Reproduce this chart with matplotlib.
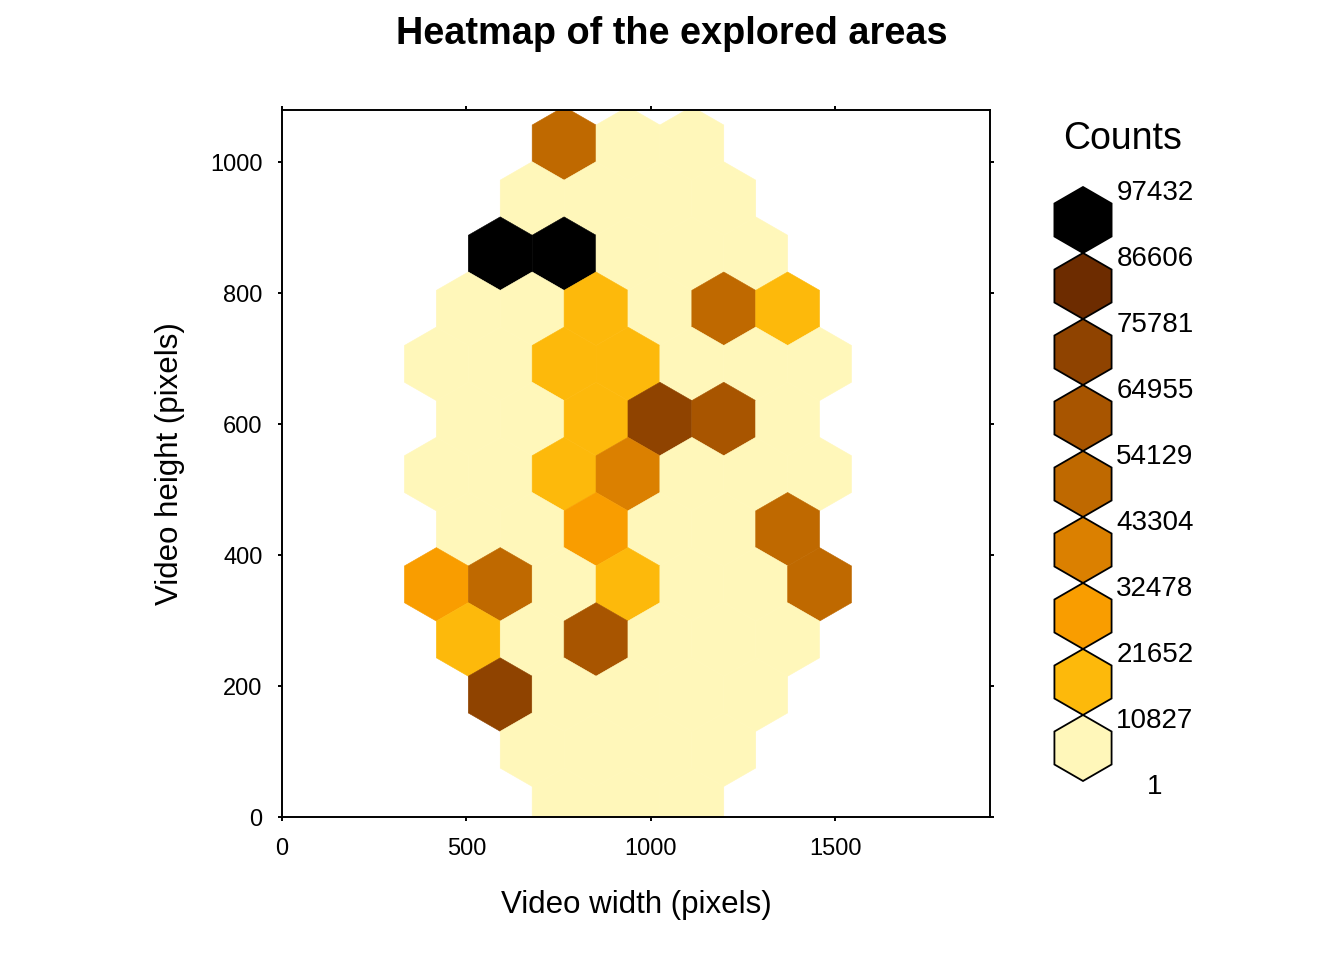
import matplotlib
matplotlib.use("Agg")
import matplotlib.pyplot as plt
from matplotlib.collections import PolyCollection
from matplotlib.colors import ListedColormap, BoundaryNorm
from matplotlib.patches import RegularPolygon
import numpy as np

# hexbin grid over the video frame (pixels)
x_origin, x_step = 765.0, 173.2
y_origin, y_step = 18.6, 84.2

# column index (half steps) and row index of each non empty hexagon
hex_col = [0, 2, 4,
           -1, 1, 3, 5,
           -2, 0, 2, 4, 6,
           -3, -1, 1, 3, 5, 7,
           -4, -2, 0, 2, 4, 6, 8,
           -3, -1, 1, 3, 5, 7,
           -4, -2, 0, 2, 4, 6, 8,
           -3, -1, 1, 3, 5, 7,
           -4, -2, 0, 2, 4, 6, 8,
           -3, -1, 1, 3, 5, 7,
           -2, 0, 2, 4, 6,
           -1, 1, 3, 5,
           0, 2, 4]
hex_row = [12] * 3 + [11] * 4 + [10] * 5 + [9] * 6 + [8] * 7 + [7] * 6 + [6] * 7 \
    + [5] * 6 + [4] * 7 + [3] * 6 + [2] * 5 + [1] * 4 + [0] * 3
hex_count = [48500, 3100, 2400,
             1800, 6200, 5400, 950,
             91200, 97432, 8700, 7300, 1200,
             650, 4100, 16800, 9800, 47900, 13900,
             420, 3600, 15200, 18400, 8100, 5200, 1,
             2300, 9400, 19700, 72600, 61300, 3800,
             1500, 7600, 14300, 38900, 9100, 6700, 2900,
             4700, 8800, 27300, 10200, 7900, 50800,
             25600, 46200, 9600, 17500, 10500, 6300, 49700,
             12600, 5800, 58800, 8400, 7100, 2600,
             70400, 8900, 10100, 7700, 3300,
             2700, 6900, 9300, 4400,
             3900, 7200, 5100]

count_breaks = [1, 10827, 21652, 32478, 43304, 54129, 64955, 75781, 86606, 97432]
bin_colors = ["#FFF7BA", "#FDB90B", "#F99D00", "#DB8000", "#BF6900",
              "#A85500", "#8F4300", "#6D2C00", "#000000"]

plt.rcParams["font.family"] = ["Liberation Sans", "DejaVu Sans"]

fig = plt.figure(figsize=(13.44, 9.6), dpi=100)
ax = fig.add_axes([282 / 1344, 1 - 817 / 960, 708 / 1344, 707 / 960])

cmap = ListedColormap(bin_colors).with_extremes(over=bin_colors[-1])
norm = BoundaryNorm(count_breaks, ncolors=len(bin_colors))

half_w = x_step / 2
rad = y_step / 1.5
hex_shape = np.array([[0, rad], [half_w, rad / 2], [half_w, -rad / 2],
                      [0, -rad], [-half_w, -rad / 2], [-half_w, rad / 2]])
cx = x_origin + np.array(hex_col) * half_w
cy = y_origin + np.array(hex_row) * y_step
verts = [hex_shape + [x, y] for x, y in zip(cx, cy)]

pc = PolyCollection(verts, array=np.array(hex_count), cmap=cmap, norm=norm,
                    edgecolors="face", linewidths=0.4)
ax.add_collection(pc)

ax.set_xlim(0, 1920)
ax.set_ylim(0, 1080)
ax.set_xticks([0, 500, 1000, 1500])
ax.set_yticks([0, 200, 400, 600, 800, 1000])
ax.tick_params(direction="out", length=3, width=1.4, top=True, right=True,
               labelsize=17, colors="black")
ax.tick_params(axis="x", pad=12)
ax.tick_params(axis="y", pad=11)
for sp in ax.spines.values():
    sp.set_linewidth(1.4)
ax.set_xlabel("Video width (pixels)", fontsize=22.5, labelpad=22)
ax.set_ylabel("Video height (pixels)", fontsize=22.5, labelpad=18)

fig.text(0.5, 1 - 34 / 960, "Heatmap of the explored areas", ha="center",
         va="center", fontsize=27.3, fontweight="bold")

# legend drawn in pixel units
lax = fig.add_axes([0, 0, 1, 1])
lax.set_xlim(0, 1344)
lax.set_ylim(960, 0)
lax.axis("off")
leg_x, leg_top, leg_r = 1083, 187, 33
lax.text(1123, 139, "Counts", ha="center", va="center", fontsize=27)
for i, col in enumerate(reversed(bin_colors)):
    hexp = RegularPolygon((leg_x, leg_top + leg_r + 2 * leg_r * i), 6, radius=leg_r,
                          facecolor=col, edgecolor="black", linewidth=1.3)
    lax.add_patch(hexp)
for i, b in enumerate(reversed(count_breaks)):
    lax.text(1155, leg_top + 2 * leg_r * i + 6, str(b), ha="center", va="center",
             fontsize=20)

fig.savefig("out.png", dpi=100)
